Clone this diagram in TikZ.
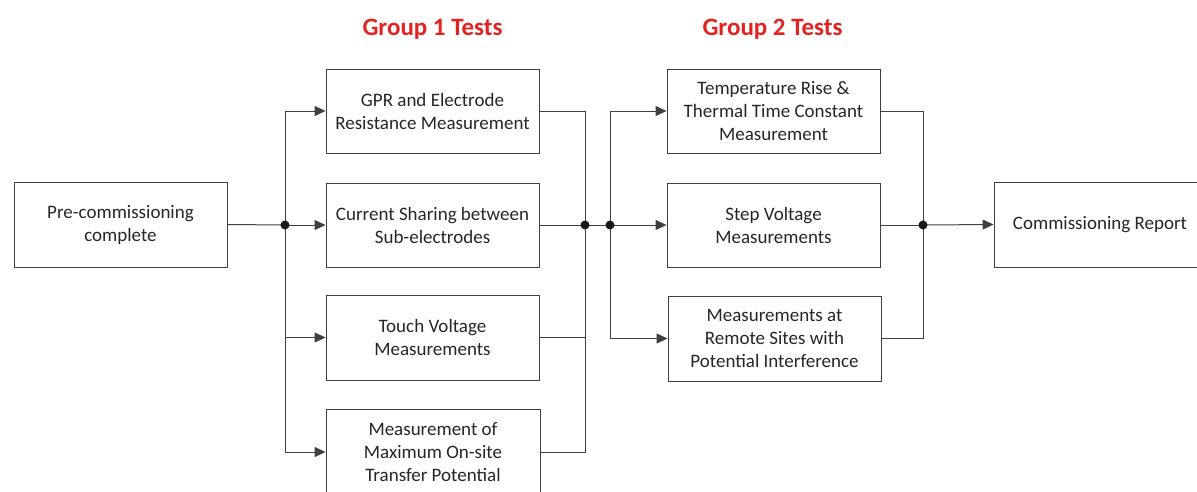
\documentclass[tikz,border=0pt]{standalone}
\usepackage{fontspec}
\setmainfont{Carlito}
\usetikzlibrary{arrows.meta}
\definecolor{txt}{HTML}{262626}
\definecolor{ln}{HTML}{404040}
\definecolor{ttl}{HTML}{E32321}
\begin{document}
\begin{tikzpicture}[x=1pt,y=-1pt,
  box/.style={draw=ln,line width=0.9pt,minimum width=213pt,minimum height=85pt,inner sep=0pt,align=center,text=txt,font=\fontsize{19}{23}\selectfont},
  conn/.style={draw=ln,line width=1pt},
  arr/.style={conn,-{Triangle[length=11pt,width=10pt]}},
  title/.style={text=ttl,font=\fontsize{25}{28}\selectfont\bfseries}]
\useasboundingbox (0,0) rectangle (1197,491);
\clip (0,0) rectangle (1197,491);
\node[title] (t1) at (432.5,29) {Group 1 Tests};
\node[title] (t2) at (772.5,29) {Group 2 Tests};
\node[box] (pre) at (120.5,224.5) {Pre-commissioning\\complete};
\node[box,minimum height=84pt] (a1) at (432.5,111) {GPR and Electrode\\Resistance Measurement};
\node[box,minimum height=84pt] (a2) at (432.5,225) {Current Sharing between\\Sub-electrodes};
\node[box] (a3) at (432.5,337.5) {Touch Voltage\\Measurements};
\node[box,minimum width=214pt,minimum height=86pt] (a4) at (433,452) {Measurement of\\Maximum On-site\\Transfer Potential};
\node[box,minimum height=84pt] (b1) at (773.5,111) {Temperature Rise \&\\Thermal Time Constant\\Measurement};
\node[box,minimum height=84pt] (b2) at (773.5,225) {Step Voltage\\Measurements};
\node[box] (b3) at (774.5,338.5) {Measurements at\\Remote Sites with\\Potential Interference};
\node[box,minimum width=212pt] (rep) at (1100,224.5) {Commissioning Report};
\coordinate (j1) at (285,225);
\coordinate (j2) at (585,225);
\coordinate (j3) at (610,225);
\coordinate (j4) at (923,225);
\draw[conn] (pre.east) -- (j1);
\draw[arr] (j1) |- (a1.west);
\draw[arr] (j1) -- (a2.west);
\draw[arr] (j1) |- (a3.west);
\draw[arr] (j1) |- (a4.west);
\draw[conn] (a1.east) -| (j2);
\draw[conn] (a2.east) -- (j2);
\draw[conn] (a3.east) -| (j2);
\draw[conn] (a4.east) -| (j2);
\draw[conn] (j2) -- (j3);
\draw[arr] (j3) |- (b1.west);
\draw[arr] (j3) -- (b2.west);
\draw[arr] (j3) |- (b3.west);
\draw[conn] (b1.east) -| (j4);
\draw[conn] (b2.east) -- (j4);
\draw[conn] (b3.east) -| (j4);
\draw[arr] (j4) -- (rep.west);
\fill[black!90] (j1) circle[radius=4.5pt];
\fill[black!90] (j2) circle[radius=4.5pt];
\fill[black!90] (j3) circle[radius=4.5pt];
\fill[black!90] (j4) circle[radius=4.5pt];
\end{tikzpicture}
\end{document}
